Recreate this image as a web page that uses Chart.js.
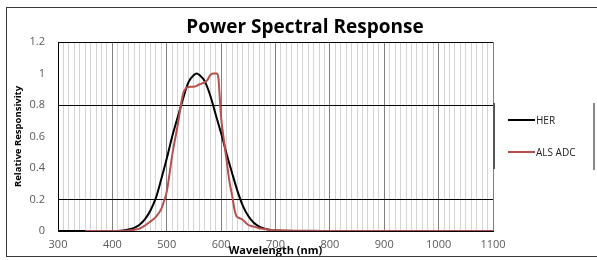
<!DOCTYPE html>
<html>
<head>
<meta charset="utf-8">
<script src="https://cdn.jsdelivr.net/npm/chart.js@4.4.1/dist/chart.umd.min.js"></script>
<style>
  html, body { margin: 0; padding: 0; background: #fff; }
</style>
</head>
<body>
<canvas id="grafico" width="597" height="260"></canvas>
<script>
// Dados (comprimento de onda em nm, resposta relativa)
const herNm  = [300, 350, 400, 420, 430, 440, 450, 460, 470, 480, 490, 500, 510, 520, 530, 540, 550, 555, 560, 570, 580, 590, 600, 610, 620, 630, 640, 650, 660, 670, 680, 690, 700, 750, 800, 900, 1000, 1100];
const herVal = [0, 0, 0, 0.004, 0.01, 0.02, 0.04, 0.075, 0.13, 0.21, 0.33, 0.46, 0.6, 0.72, 0.84, 0.945, 0.99, 1.0, 0.99, 0.95, 0.86, 0.74, 0.62, 0.49, 0.37, 0.255, 0.16, 0.095, 0.052, 0.028, 0.014, 0.007, 0.003, 0, 0, 0, 0, 0];

const alsNm  = [350, 400, 430, 440, 450, 460, 470, 480, 490, 495, 500, 505, 510, 520, 530, 535, 540, 550, 560, 570, 575, 580, 585, 592, 595, 598, 600, 605, 610, 615, 620, 625, 628, 635, 640, 650, 660, 670, 680, 690, 700, 750, 800, 900, 1000, 1100];
const alsVal = [0, 0, 0.003, 0.008, 0.015, 0.035, 0.06, 0.09, 0.14, 0.19, 0.25, 0.36, 0.48, 0.67, 0.87, 0.905, 0.915, 0.916, 0.93, 0.945, 0.96, 0.99, 1.0, 1.0, 0.97, 0.82, 0.72, 0.58, 0.45, 0.32, 0.23, 0.13, 0.095, 0.08, 0.07, 0.038, 0.028, 0.018, 0.012, 0.007, 0.004, 0.002, 0, 0, 0, 0];

const xMajor = [300, 400, 500, 600, 700, 800, 900, 1000, 1100];
const yLabels = ['0', '0.2', '0.4', '0.6', '0.8', '1', '1.2'];
const yBlackLines = [0.2, 0.8, 1.2];

const tituloGrafico = 'Power Spectral Response';
const nomes = ['HER', 'ALS ADC'];
const cores = ['#000000', '#b5504c'];

const fonte = '"Open Sans", "Liberation Sans", sans-serif';

// Título, legenda e moldura desenhados à mão
const extras = {
    id: 'extras',
    afterDraw(chart) {
        const ctx = chart.ctx;
        ctx.save();
        // moldura externa
        ctx.strokeStyle = '#3a3a3a';
        ctx.lineWidth = 1;
        ctx.strokeRect(6.5, 7.5, 700, 249);
        // título
        ctx.fillStyle = '#000';
        ctx.font = 'bold 19px ' + fonte;
        ctx.textAlign = 'center';
        ctx.textBaseline = 'middle';
        ctx.fillText(tituloGrafico, 305, 28);
        // traços verticais soltos
        ctx.fillStyle = '#555';
        ctx.fillRect(493, 103, 2, 66);
        ctx.fillStyle = '#888';
        ctx.fillRect(593, 103, 2, 67);
        // legenda
        const ys = [120, 152];
        ctx.font = '10px ' + fonte;
        ctx.textAlign = 'left';
        chart.data.datasets.forEach((ds, i) => {
            ctx.strokeStyle = ds.borderColor;
            ctx.lineWidth = 2;
            ctx.beginPath();
            ctx.moveTo(508, ys[i]);
            ctx.lineTo(535, ys[i]);
            ctx.stroke();
            ctx.fillStyle = '#222';
            ctx.fillText(ds.label, 536, ys[i] + 1);
        });
        ctx.restore();
    }
};

const ctxGrafico = document.getElementById('grafico').getContext('2d');
const chartGrafico = new Chart(ctxGrafico, {
    type: 'line',
    data: {
        datasets: [{
            label: nomes[0],
            data: herNm.map((x, i) => ({ x: x, y: herVal[i] })),
            borderColor: cores[0],
            borderWidth: 2,
            pointRadius: 0,
            cubicInterpolationMode: 'monotone',
            order: 2
        }, {
            label: nomes[1],
            data: alsNm.map((x, i) => ({ x: x, y: alsVal[i] })),
            borderColor: cores[1],
            borderWidth: 2,
            pointRadius: 0,
            cubicInterpolationMode: 'monotone',
            order: 1
        }]
    },
    options: {
        responsive: false,
        animation: false,
        devicePixelRatio: 1,
        layout: { padding: { top: 42, right: 104, left: 0, bottom: 0 } },
        plugins: {
            legend: { display: false },
            tooltip: { enabled: false }
        },
        scales: {
            x: {
                type: 'linear',
                min: 300,
                max: 1100,
                afterFit: s => { s.height = 29; },
                ticks: {
                    stepSize: 10,
                    autoSkip: false,
                    maxRotation: 0,
                    padding: 7,
                    color: '#595959',
                    font: { family: fonte, size: 11 },
                    callback: v => xMajor.includes(v) ? String(v) : ''
                },
                grid: {
                    drawTicks: false,
                    color: c => xMajor.includes(c.tick.value) ? '#808080' : '#d4d4d4'
                },
                border: { color: '#000' },
                title: {
                    display: true,
                    text: 'Wavelength (nm)',
                    color: '#000',
                    font: { family: fonte, size: 11, weight: 'bold' },
                    padding: { top: 0, bottom: 3 }
                }
            },
            y: {
                min: 0,
                max: 1.2,
                afterFit: s => { s.width = 58; },
                ticks: {
                    stepSize: 0.2,
                    padding: 13,
                    color: '#595959',
                    font: { family: fonte, size: 11 },
                    callback: (v, i) => yLabels[i]
                },
                grid: {
                    drawTicks: false,
                    color: c => yBlackLines.some(v => Math.abs(v - c.tick.value) < 1e-6) ? '#000' : 'rgba(0,0,0,0)'
                },
                border: { color: '#000' },
                title: {
                    display: true,
                    text: 'Relative Responsivity',
                    color: '#000',
                    font: { family: fonte, size: 9.5, weight: 'bold' },
                    padding: { top: 13, bottom: 0 }
                }
            }
        }
    },
    plugins: [extras]
});
</script>
</body>
</html>
